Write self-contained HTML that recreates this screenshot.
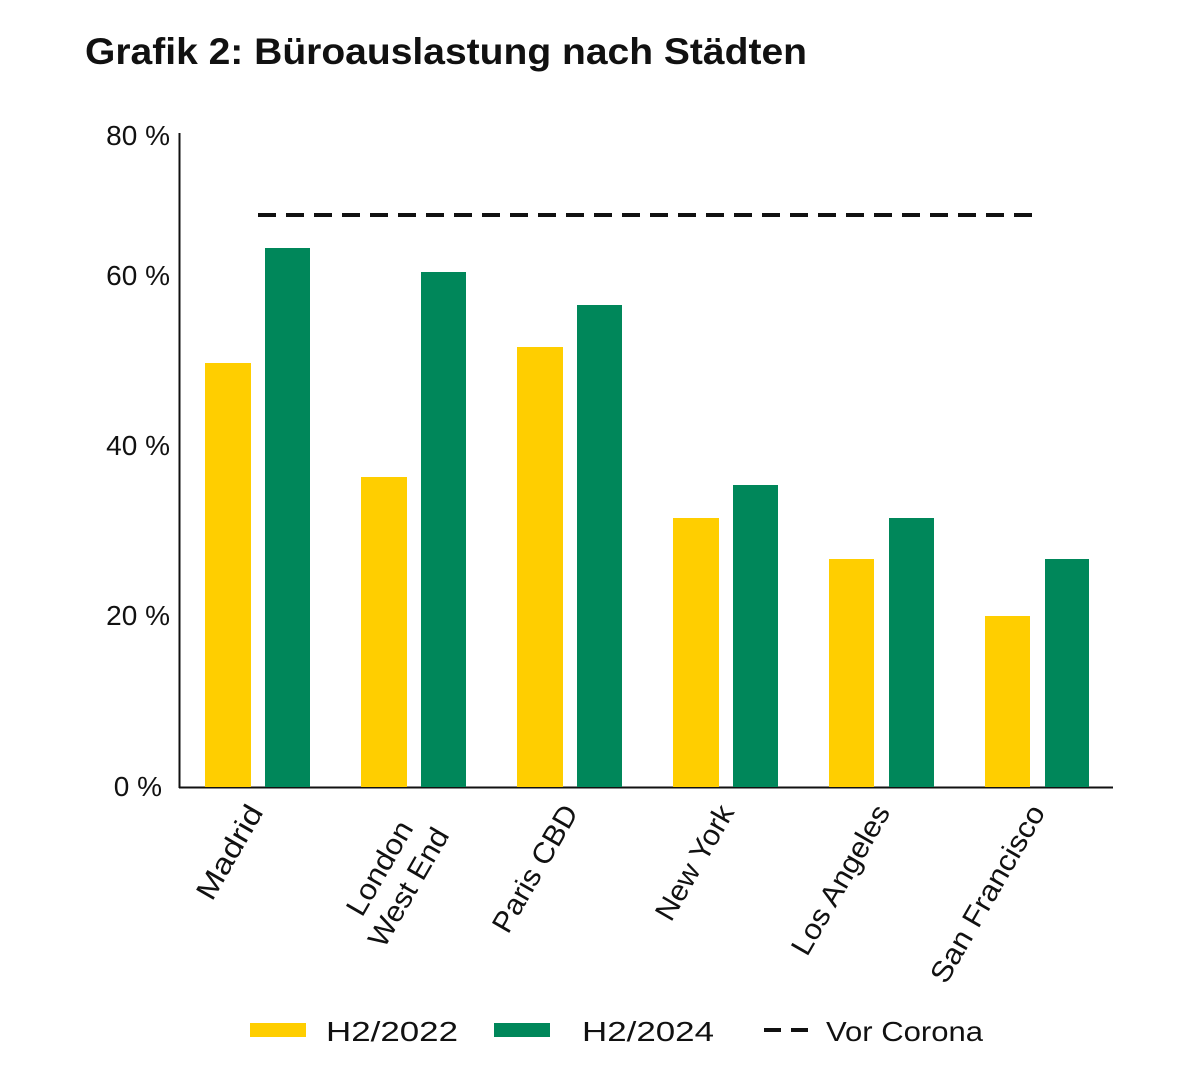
<!DOCTYPE html>
<html><head><meta charset="utf-8"><style>
html,body{margin:0;padding:0;background:#fff}
svg{display:block}
text{font-family:"Liberation Sans",sans-serif;fill:#111}
</style></head><body>
<svg width="1200" height="1072" viewBox="0 0 1200 1072" xmlns="http://www.w3.org/2000/svg">
<text x="85" y="64" font-size="37" font-weight="bold" textLength="722" lengthAdjust="spacingAndGlyphs">Grafik 2: Büroauslastung nach Städten</text>
<g font-size="28" text-anchor="end">
<text x="170" y="145">80 %</text>
<text x="170" y="285">60 %</text>
<text x="170" y="455">40 %</text>
<text x="170" y="625">20 %</text>
<text x="162" y="796">0 %</text>
</g>
<line x1="179.5" y1="133" x2="179.5" y2="788" stroke="#111" stroke-width="2"/>
<line x1="179" y1="787.5" x2="1113" y2="787.5" stroke="#111" stroke-width="2"/>
<g fill="#FFCE00">
<rect x="205" y="363" width="46" height="424"/>
<rect x="361" y="477" width="46" height="310"/>
<rect x="517" y="347" width="46" height="440"/>
<rect x="673" y="518" width="46" height="269"/>
<rect x="829" y="559" width="45" height="228"/>
<rect x="985" y="616" width="45" height="171"/>
</g>
<g fill="#00875A">
<rect x="265" y="248" width="45" height="539"/>
<rect x="421" y="272" width="45" height="515"/>
<rect x="577" y="305" width="45" height="482"/>
<rect x="733" y="485" width="45" height="302"/>
<rect x="889" y="518" width="45" height="269"/>
<rect x="1045" y="559" width="44" height="228"/>
</g>
<line x1="258" y1="215" x2="1040" y2="215" stroke="#111" stroke-width="4" stroke-dasharray="18 10"/>
<g font-size="29" text-anchor="end">
<text transform="translate(264,812) rotate(-60)" textLength="104" lengthAdjust="spacingAndGlyphs">Madrid</text>
<text transform="translate(414,828) rotate(-60)" textLength="104" lengthAdjust="spacingAndGlyphs">London</text>
<text transform="translate(450,835) rotate(-60)" textLength="132" lengthAdjust="spacingAndGlyphs">West End</text>
<text transform="translate(579,812) rotate(-60)" textLength="142" lengthAdjust="spacingAndGlyphs">Paris CBD</text>
<text transform="translate(735,812) rotate(-60)" textLength="128" lengthAdjust="spacingAndGlyphs">New York</text>
<text transform="translate(891,812) rotate(-60)" textLength="168" lengthAdjust="spacingAndGlyphs">Los Angeles</text>
<text transform="translate(1046,812) rotate(-60)" textLength="200" lengthAdjust="spacingAndGlyphs">San Francisco</text>
</g>
<rect x="250" y="1023" width="56" height="14" fill="#FFCE00"/>
<text x="326" y="1041" font-size="28" textLength="132" lengthAdjust="spacingAndGlyphs">H2/2022</text>
<rect x="494" y="1023" width="56" height="14" fill="#00875A"/>
<text x="582" y="1041" font-size="28" textLength="132" lengthAdjust="spacingAndGlyphs">H2/2024</text>
<line x1="764" y1="1030" x2="818" y2="1030" stroke="#111" stroke-width="4" stroke-dasharray="17 10"/>
<text x="826" y="1041" font-size="28" textLength="157" lengthAdjust="spacingAndGlyphs">Vor Corona</text>
</svg>
</body></html>
